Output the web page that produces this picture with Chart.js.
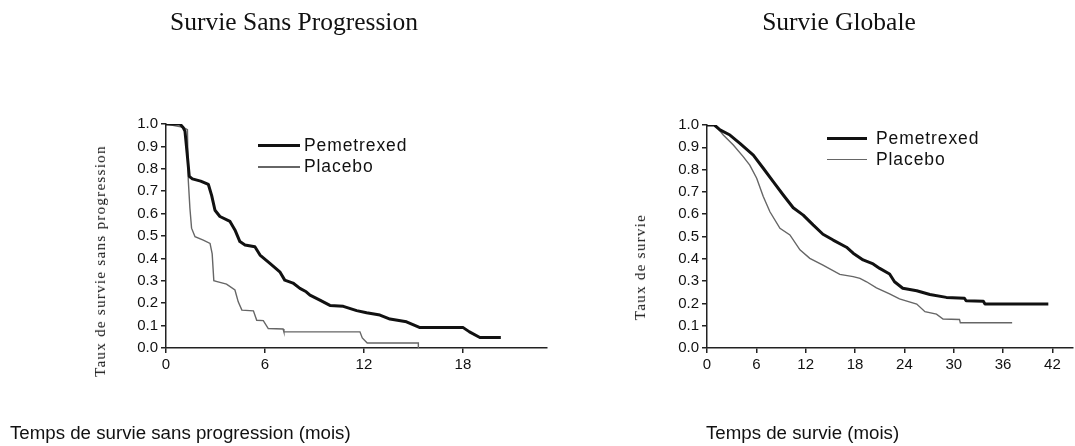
<!DOCTYPE html>
<html>
<head>
<meta charset="utf-8">
<script src="https://cdn.jsdelivr.net/npm/chart.js@4/dist/chart.umd.min.js"></script>
<style>
  html, body { margin: 0; padding: 0; background: #fff; }
  body { width: 1075px; height: 446px; position: relative; overflow: hidden; }
  canvas { position: absolute; top: 0; }
  .t { position: absolute; white-space: nowrap; color: #111; }
  .serif { font-family: 'Liberation Serif', 'Times New Roman', serif; }
  .sans { font-family: 'Liberation Sans', Arial, sans-serif; }
  .title { font-size: 25.5px; line-height: 26px; width: 400px; text-align: center; }
  .xlab { font-size: 18.7px; line-height: 20px; }
  .ylab { font-size: 15px; line-height: 16px; letter-spacing: 1.3px; transform: translate(-50%, -50%) rotate(-90deg); }
  .leg { font-size: 17.5px; line-height: 20px; letter-spacing: 0.9px; }
  .ln { position: absolute; }
</style>
</head>
<body>
<canvas id="c1" width="560" height="446" style="left:0;width:560px;height:446px"></canvas>
<canvas id="c2" width="515" height="446" style="left:560px;width:515px;height:446px"></canvas>

<div class="t serif title" style="left:94px;top:9px">Survie Sans Progression</div>
<div class="t serif title" style="left:639px;top:9px">Survie Globale</div>

<div class="t sans xlab" style="left:10px;top:423px">Temps de survie sans progression (mois)</div>
<div class="t sans xlab" style="left:706px;top:423px">Temps de survie (mois)</div>

<div class="t serif ylab" style="left:100px;top:261px">Taux de survie sans progression</div>
<div class="t serif ylab" style="left:640px;top:267px">Taux de survie</div>

<div class="ln" style="left:258px;top:143.5px;width:42px;height:3px;background:#111"></div>
<div class="t sans leg" style="left:304px;top:135px">Pemetrexed</div>
<div class="ln" style="left:258px;top:166px;width:42px;height:1.5px;background:#666"></div>
<div class="t sans leg" style="left:304px;top:156px">Placebo</div>

<div class="ln" style="left:827px;top:136.5px;width:40px;height:3px;background:#111"></div>
<div class="t sans leg" style="left:876px;top:128px">Pemetrexed</div>
<div class="ln" style="left:827px;top:158.5px;width:40px;height:1.5px;background:#666"></div>
<div class="t sans leg" style="left:876px;top:149px">Placebo</div>

<script>
// ---- Data ----
const seriesNames = ['Pemetrexed', 'Placebo'];

// Survie Sans Progression (months, survival probability)
const pfsPemTime = [0, 0.85, 1.05, 1.15, 1.28, 1.41, 1.6, 2.1, 2.57, 2.77, 2.97, 3.27, 3.88, 4.18, 4.48, 4.79, 5.39, 5.7, 6.3, 6.9, 7.2, 7.7, 8.12, 8.5, 8.73, 9.33, 9.94, 10.75, 11.56, 12.16, 12.97, 13.58, 14.58, 15.4, 18.02, 18.4, 19.03, 20.3];
const pfsPemSurv = [1.0, 1.0, 0.983, 0.968, 0.87, 0.766, 0.755, 0.745, 0.73, 0.68, 0.615, 0.587, 0.565, 0.527, 0.475, 0.46, 0.452, 0.415, 0.378, 0.34, 0.303, 0.29, 0.266, 0.251, 0.236, 0.214, 0.19, 0.186, 0.167, 0.157, 0.147, 0.129, 0.117, 0.091, 0.091, 0.072, 0.047, 0.047];
const pfsPlaTime = [0, 1.05, 1.3, 1.35, 1.45, 1.55, 1.76, 2.26, 2.67, 2.8, 2.9, 3.1, 3.67, 4.18, 4.38, 4.6, 5.3, 5.5, 5.9, 6.2, 7.1, 7.15, 11.76, 11.9, 12.2, 15.3, 15.3];
const pfsPlaSurv = [1.0, 0.985, 0.975, 0.75, 0.624, 0.535, 0.497, 0.482, 0.467, 0.42, 0.30, 0.296, 0.285, 0.259, 0.206, 0.169, 0.166, 0.124, 0.122, 0.087, 0.085, 0.072, 0.072, 0.045, 0.022, 0.022, 0.0];

// Survie Globale
const osPemTime = [0, 0.9, 1.58, 2.79, 4.0, 5.63, 6.84, 8.05, 9.27, 10.48, 11.7, 12.9, 14.1, 15.34, 16.96, 17.77, 18.98, 20.2, 21.0, 22.2, 22.8, 23.8, 25.5, 27.1, 29.1, 31.3, 31.5, 33.6, 33.8, 41.5];
const osPemSurv = [1.0, 1.0, 0.978, 0.955, 0.918, 0.865, 0.806, 0.746, 0.686, 0.629, 0.596, 0.552, 0.51, 0.484, 0.452, 0.425, 0.395, 0.377, 0.357, 0.332, 0.297, 0.268, 0.257, 0.24, 0.227, 0.223, 0.212, 0.21, 0.197, 0.197];
const osPlaTime = [0, 1.0, 1.98, 3.2, 4.4, 5.2, 6.04, 6.84, 7.65, 8.87, 10.08, 11.3, 12.5, 14.1, 16.15, 17.77, 18.6, 19.4, 20.6, 22.2, 23.4, 25.5, 26.5, 27.9, 28.7, 30.7, 30.8, 37.1];
const osPlaSurv = [1.0, 1.0, 0.955, 0.91, 0.858, 0.82, 0.761, 0.679, 0.611, 0.537, 0.507, 0.44, 0.402, 0.372, 0.33, 0.32, 0.312, 0.297, 0.27, 0.243, 0.22, 0.197, 0.163, 0.152, 0.13, 0.128, 0.113, 0.113];

// Tick labels
const pfsXTicks = [0, 6, 12, 18];
const osXTicks = [0, 6, 12, 18, 24, 30, 36, 42];
const yTicks = [0, 0.1, 0.2, 0.3, 0.4, 0.5, 0.6, 0.7, 0.8, 0.9, 1.0];

// ---- Chart construction ----
const pts = (t, s) => t.map((v, i) => ({ x: v, y: s[i] }));
const axisColor = '#222';
const tickFont = { family: "'Liberation Sans', Arial, sans-serif", size: 15 };

function makeChart(id, pem, pla, xTicks, xMax, yWidth, pad) {
  return new Chart(document.getElementById(id), {
    type: 'line',
    data: {
      datasets: [
        { label: seriesNames[0], data: pem, borderColor: '#111', borderWidth: 3, pointRadius: 0, tension: 0, fill: false, borderJoinStyle: 'round' },
        { label: seriesNames[1], data: pla, borderColor: '#666', borderWidth: 1.4, pointRadius: 0, tension: 0, fill: false }
      ]
    },
    options: {
      responsive: false,
      animation: false,
      layout: { padding: pad },
      plugins: { legend: { display: false }, tooltip: { enabled: false } },
      scales: {
        x: {
          type: 'linear', min: 0, max: xMax,
          afterBuildTicks: s => { s.ticks = xTicks.map(v => ({ value: v })); },
          afterFit: s => { s.height = 30; },
          grid: { drawOnChartArea: false, drawTicks: true, tickLength: 5, color: axisColor, lineWidth: 1.5 },
          border: { display: true, color: axisColor, width: 1.5 },
          ticks: { font: tickFont, color: '#111', padding: 3, maxRotation: 0, callback: v => String(v) }
        },
        y: {
          type: 'linear', min: 0, max: 1,
          afterBuildTicks: s => { s.ticks = yTicks.map(v => ({ value: v })); },
          afterFit: s => { s.width = yWidth; },
          grid: { drawOnChartArea: false, drawTicks: true, tickLength: 5, color: axisColor, lineWidth: 1.5 },
          border: { display: true, color: axisColor, width: 1.5 },
          ticks: { font: tickFont, color: '#111', padding: 3, callback: v => Number(v).toFixed(1) }
        }
      }
    }
  });
}

makeChart('c1', pts(pfsPemTime, pfsPemSurv), pts(pfsPlaTime, pfsPlaSurv), pfsXTicks, 23.1, 166,
  { left: 0, right: 13, top: 124, bottom: 68 });
makeChart('c2', pts(osPemTime, osPemSurv), pts(osPlaTime, osPlaSurv), osXTicks, 44.5, 147,
  { left: 0, right: 2, top: 125, bottom: 68 });
</script>
</body>
</html>
